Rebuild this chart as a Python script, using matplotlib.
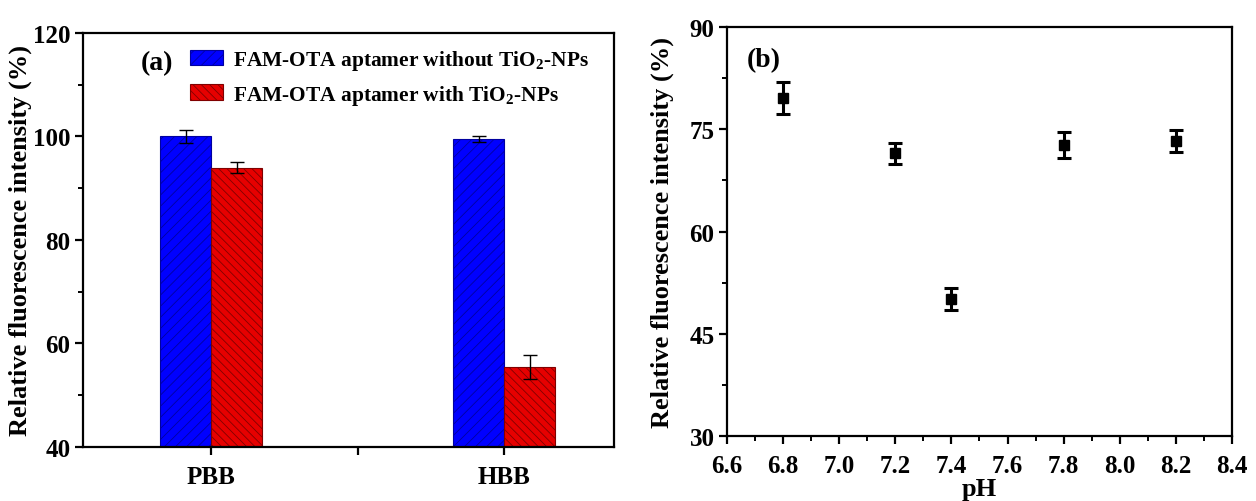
import matplotlib
matplotlib.use("Agg")
import matplotlib.pyplot as plt
from matplotlib.ticker import MultipleLocator
import numpy as np

plt.rcParams['font.family'] = ['Liberation Serif', 'DejaVu Serif']
plt.rcParams['font.weight'] = 'bold'
plt.rcParams['mathtext.fontset'] = 'custom'
plt.rcParams['mathtext.rm'] = 'Liberation Serif:bold'
plt.rcParams['mathtext.bf'] = 'Liberation Serif:bold'
plt.rcParams['hatch.linewidth'] = 0.6

# ---- data (a)
buffers = ['PBB', 'HBB']
without_tio2 = [100.0, 99.5]
without_err = [1.3, 0.5]
with_tio2 = [94.0, 55.5]
with_err = [1.1, 2.3]
legend_labels = ['FAM-OTA aptamer without TiO$_2$-NPs', 'FAM-OTA aptamer with TiO$_2$-NPs']

# ---- data (b)
ph = [6.8, 7.2, 7.4, 7.8, 8.2]
ph_intensity = [79.6, 71.5, 50.1, 72.7, 73.3]
ph_err = [2.3, 1.55, 1.65, 1.85, 1.6]
ph_ticks = [6.6, 6.8, 7.0, 7.2, 7.4, 7.6, 7.8, 8.0, 8.2, 8.4]

fig = plt.figure(figsize=(12.56, 5.02), dpi=100)
ax1 = fig.add_axes([0.0661, 0.1076, 0.4228, 0.8247])
ax2 = fig.add_axes([0.5788, 0.1295, 0.4021, 0.8147])

x = np.arange(1, len(buffers) + 1)
w = 0.174
ax1.bar(x - w / 2, without_tio2, w, color='#0000ff', edgecolor='#0000a0',
        hatch='///', linewidth=0.8, label=legend_labels[0], zorder=2)
ax1.bar(x + w / 2, with_tio2, w, color='#e60000', edgecolor='#800000',
        hatch='\\\\\\\\', linewidth=0.8, label=legend_labels[1], zorder=2)
ax1.errorbar(x - w / 2, without_tio2, yerr=without_err, fmt='none', ecolor='black',
             elinewidth=1.0, capsize=5, capthick=1.0, zorder=3)
ax1.errorbar(x + w / 2, with_tio2, yerr=with_err, fmt='none', ecolor='black',
             elinewidth=1.0, capsize=5, capthick=1.0, zorder=3)

ax1.set_xlim(0.563, 2.375)
ax1.set_ylim(40, 120)
ax1.set_xticks([1, 1.5, 2])
ax1.set_xticklabels(['PBB', '', 'HBB'])
ax1.yaxis.set_major_locator(MultipleLocator(20))
ax1.yaxis.set_minor_locator(MultipleLocator(10))
ax1.set_ylabel('Relative fluorescence intensity (%)', fontsize=19, fontweight='bold', labelpad=1)
ax1.text(0.108, 0.913, '(a)', transform=ax1.transAxes, fontsize=20, fontweight='bold')
ax1.legend(loc='upper left', bbox_to_anchor=(0.165, 1.01), frameon=False,
           fontsize=15.4, handlelength=1.55, handleheight=0.75, handletextpad=0.45,
           labelspacing=0.5)

# ---- (b)
ax2.errorbar(ph, ph_intensity, yerr=ph_err, fmt='s', color='black', markersize=7.5,
             elinewidth=2.2, capsize=5, capthick=2.2)
ax2.set_xlim(6.6, 8.4)
ax2.set_ylim(30, 90)
ax2.set_xticks(ph_ticks)
ax2.set_xticklabels([f'{v:.1f}' for v in ph_ticks])
ax2.xaxis.set_minor_locator(MultipleLocator(0.1))
ax2.yaxis.set_major_locator(MultipleLocator(15))
ax2.yaxis.set_minor_locator(MultipleLocator(7.5))
ax2.set_xlabel('pH', fontsize=19, fontweight='bold', labelpad=0)
ax2.set_ylabel('Relative fluorescence intensity (%)', fontsize=19, fontweight='bold', labelpad=11)
ax2.text(0.04, 0.905, '(b)', transform=ax2.transAxes, fontsize=20, fontweight='bold')

for ax in (ax1, ax2):
    for s in ax.spines.values():
        s.set_linewidth(1.6)
    ax.tick_params(which='major', direction='out', length=6, width=1.6, labelsize=18, pad=3)
    ax.tick_params(which='minor', direction='out', length=3.5, width=1.4)
    ax.tick_params(top=False, right=False, which='both')
    ax.tick_params(axis='x', which='major', pad=7)
ax1.tick_params(axis='x', which='minor', bottom=False)

fig.savefig('out.png', dpi=100)
